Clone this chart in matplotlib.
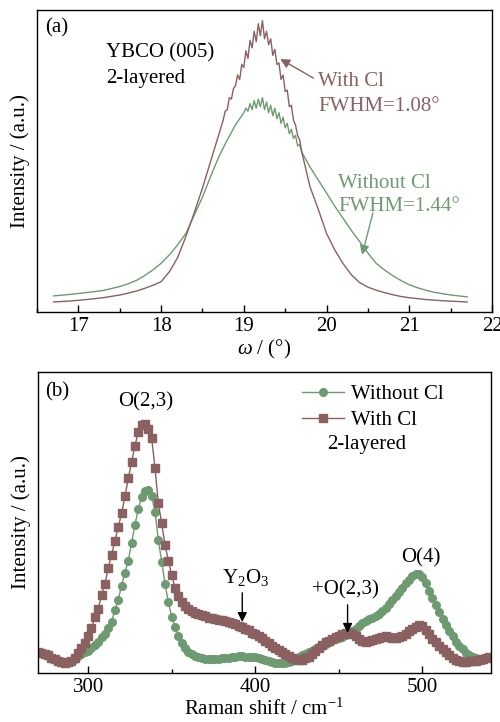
import numpy as np
import matplotlib
matplotlib.use("Agg")
from matplotlib import pyplot as plt
from matplotlib.ticker import MultipleLocator

# ---- (a) XRD rocking curves, YBCO (005) ----
omega_with = [16.7, 16.9, 17.1, 17.3, 17.5, 17.6, 17.7, 17.8, 17.9, 18.0, 18.1, 18.2, 18.3,
              18.4, 18.5, 18.6, 18.7,
              18.75, 18.775, 18.8, 18.825, 18.85, 18.875, 18.9, 18.925, 18.95, 18.975,
              19.0, 19.025, 19.05, 19.075, 19.1, 19.125, 19.15, 19.175, 19.2, 19.225,
              19.25, 19.275, 19.3, 19.325, 19.35, 19.375, 19.4, 19.425, 19.45, 19.475,
              19.5, 19.525, 19.55, 19.575, 19.6, 19.625, 19.65, 19.675,
              19.7, 19.8, 19.9, 20.0, 20.1, 20.2, 20.3, 20.4, 20.5, 20.6, 20.7, 20.8,
              20.9, 21.0, 21.2, 21.4, 21.7]
int_with = [3.3, 3.6, 4.1, 4.7, 5.6, 6.2, 6.9, 7.8, 8.8, 10.0, 13.3, 18.0, 25.0,
            32.8, 41.0, 50.0, 59.0,
            63.5, 66.5, 67.0, 71.0, 70.5, 74.0, 75.0, 78.5, 77.0, 82.0,
            81.0, 86.5, 84.0, 90.0, 87.5, 93.0, 89.5, 95.5, 91.5, 96.5,
            90.5, 93.0, 88.5, 90.5, 85.0, 87.0, 82.0, 82.5, 77.0, 78.5,
            73.0, 73.5, 68.0, 68.5, 63.5, 62.0, 58.5, 57.0,
            53.0, 41.5, 34.0, 26.0, 20.5, 16.0, 12.3, 9.7, 8.2, 7.2, 6.4, 5.7,
            5.1, 4.7, 4.1, 3.7, 3.3]

omega_without = [16.7, 16.9, 17.1, 17.3, 17.5, 17.6, 17.7, 17.8, 17.9, 18.0, 18.1, 18.2,
                 18.3, 18.4, 18.5, 18.6, 18.7, 18.8, 18.9,
                 19.0, 19.025, 19.05, 19.075, 19.1, 19.125, 19.15, 19.175, 19.2, 19.225,
                 19.25, 19.275, 19.3, 19.325, 19.35, 19.375, 19.4, 19.425, 19.45, 19.475,
                 19.5, 19.525, 19.55, 19.575, 19.6, 19.625, 19.65, 19.675, 19.7,
                 19.8, 19.9, 20.0, 20.1, 20.2, 20.3, 20.4, 20.5, 20.6, 20.7, 20.8, 20.9,
                 21.0, 21.1, 21.2, 21.3, 21.5, 21.7]
int_without = [5.3, 5.8, 6.4, 7.1, 8.4, 9.3, 10.4, 12.0, 13.9, 16.1, 18.9, 22.2,
               26.0, 32.0, 38.0, 45.0, 51.5, 57.0, 62.0,
               66.0, 67.5, 66.5, 69.0, 67.0, 70.0, 67.5, 70.5, 68.0, 71.0,
               67.0, 69.5, 66.0, 68.5, 65.0, 67.5, 64.0, 66.0, 62.5, 64.5,
               61.0, 62.5, 59.0, 60.5, 57.5, 58.5, 55.0, 55.5, 53.0,
               48.0, 43.7, 39.4, 35.0, 31.0, 27.0, 23.3, 19.5, 16.1, 13.9, 12.0, 10.4,
               9.0, 8.0, 7.2, 6.5, 5.6, 5.0]

# ---- (b) Raman spectra ----
raman_with = np.arange(270, 541, 2)
int_raman_with = [7.0, 6.6, 6.2, 5.8, 5.1, 4.5, 4.1, 3.7, 3.4, 3.5,
                  4.0, 5.0, 6.5, 8.2, 9.9, 12.1, 14.8, 18.5, 21.2, 25.8,
                  29.5, 34.8, 39.2, 43.8, 48.4, 53.0, 58.6, 64.6, 70.0, 75.5,
                  80.0, 82.2, 82.6, 81.0, 78.0, 68.0, 56.4, 49.7, 42.5, 37.3,
                  32.4, 28.3, 25.5, 23.7, 22.2, 21.2, 20.6, 20.0, 19.6, 19.2,
                  18.8, 18.4, 18.1, 17.9, 17.7, 17.5, 17.3, 16.9, 16.5, 16.1,
                  15.7, 15.2, 14.7, 14.1, 13.4, 12.8, 12.2, 11.5, 10.7, 9.9,
                  9.1, 8.4, 7.6, 6.9, 6.2, 5.6, 5.1, 4.7, 4.4, 4.4,
                  4.8, 5.4, 6.2, 7.2, 8.2, 9.3, 10.1, 10.7, 11.2, 11.8,
                  12.3, 12.8, 13.1, 13.2, 12.8, 12.1, 11.4, 10.7, 10.3, 10.5,
                  10.9, 11.3, 11.7, 12.0, 12.1, 11.8, 11.5, 11.6, 11.9, 12.4,
                  13.0, 13.8, 14.6, 15.4, 15.9, 15.5, 14.3, 12.8, 11.4, 10.2,
                  9.1, 8.0, 7.0, 6.0, 5.0, 4.2, 3.8, 3.7, 3.7, 3.8,
                  3.9, 4.1, 4.3, 4.5, 4.8, 5.2]

raman_without = np.arange(290, 537, 2)
int_raman_without = [4.0, 4.6, 5.5, 6.3, 6.9, 7.4, 8.2, 9.2, 10.4, 11.8,
                     12.8, 14.8, 17.0, 21.0, 24.3, 29.0, 33.2, 37.3, 43.3, 49.2,
                     54.5, 58.5, 60.3, 60.8, 58.6, 53.6, 44.0, 37.0, 29.5, 23.4,
                     18.7, 15.2, 12.3, 9.9, 8.2, 7.1, 6.3, 5.7, 5.2, 4.9,
                     4.7, 4.6, 4.5, 4.6, 4.7, 4.8, 4.9, 5.1, 5.3, 5.4,
                     5.5, 5.5, 5.4, 5.3, 5.3, 5.2, 4.9, 4.5, 4.2, 3.9,
                     3.6, 3.4, 3.2, 3.2, 3.3, 3.6, 4.1, 4.6, 5.2, 5.8,
                     6.3, 6.8, 7.4, 8.0, 8.6, 9.1, 9.7, 10.3, 10.8, 11.3,
                     11.7, 12.0, 12.6, 13.5, 14.0, 14.7, 15.6, 16.5, 17.3, 17.9,
                     18.4, 19.0, 19.7, 20.4, 21.5, 22.8, 24.2, 25.5, 26.8, 28.1,
                     29.7, 31.0, 32.2, 33.0, 32.8, 32.0, 29.8, 27.2, 24.8, 22.6,
                     20.3, 17.8, 15.8, 13.9, 12.1, 10.4, 9.0, 7.8, 6.7, 5.9,
                     5.3, 4.9, 4.6, 4.4]

brown = "#8a6060"
green = "#6e9a71"

plt.rcParams["font.family"] = ["Liberation Serif", "DejaVu Serif"]
plt.rcParams["font.size"] = 15
plt.rcParams["mathtext.fontset"] = "custom"
plt.rcParams["mathtext.rm"] = "Liberation Serif"
plt.rcParams["mathtext.it"] = "Liberation Serif:italic"

fig = plt.figure(figsize=(5.0, 7.22), dpi=100)
ax1 = fig.add_axes([0.074, 0.568, 0.910, 0.418])
ax2 = fig.add_axes([0.076, 0.068, 0.906, 0.417])

for ax in (ax1, ax2):
    ax.set_yticks([])
    ax.tick_params(axis="x", which="both", direction="in", top=False, pad=4, labelsize=15)
    ax.tick_params(axis="x", which="major", length=5, width=1)
    ax.tick_params(axis="x", which="minor", length=3, width=1)
    for s in ax.spines.values():
        s.set_linewidth(1.0)
    ax.set_ylabel("Intensity / (a.u.)", fontsize=15, labelpad=5)
    ax.set_ylim(0, 100)

# (a)
ax1.plot(omega_without, int_without, color=green, lw=1.0)
ax1.plot(omega_with, int_with, color=brown, lw=1.0)
ax1.set_xlim(16.5, 22)
ax1.xaxis.set_major_locator(MultipleLocator(1))
ax1.xaxis.set_minor_locator(MultipleLocator(0.5))
ax1.set_xlabel(r"$\omega$ / (°)", fontsize=15, labelpad=1)

ax1.text(16.6, 94, "(a)", ha="left", va="center")
ax1.text(17.34, 85.8, "YBCO (005)", ha="left", va="center")
ax1.text(17.34, 77.5, "2-layered", ha="left", va="center")
ax1.text(19.90, 76.2, "With Cl", ha="left", va="center", color=brown)
ax1.text(19.90, 68.2, "FWHM=1.08°", ha="left", va="center", color=brown)
ax1.text(20.14, 42.7, "Without Cl", ha="left", va="center", color=green)
ax1.text(20.14, 34.8, "FWHM=1.44°", ha="left", va="center", color=green)
ax1.annotate("", xy=(19.44, 83.8), xytext=(19.84, 77.5),
             arrowprops=dict(arrowstyle="-|>", color=brown, lw=1.0, mutation_scale=14,
                             shrinkA=0, shrinkB=0))
ax1.annotate("", xy=(20.43, 18.9), xytext=(20.56, 32.8),
             arrowprops=dict(arrowstyle="-|>", color=green, lw=1.0, mutation_scale=14,
                             shrinkA=0, shrinkB=0))

# (b)
ax2.plot(raman_without, int_raman_without, color=green, lw=1.0, marker="o", ms=5.5,
         label="Without Cl")
ax2.plot(raman_with, int_raman_with, color=brown, lw=1.0, marker="s", ms=5.2,
         label="With Cl")
ax2.set_xlim(270, 541)
ax2.xaxis.set_major_locator(MultipleLocator(100))
ax2.xaxis.set_minor_locator(MultipleLocator(50))
ax2.set_xlabel(r"Raman shift / cm$^{-1}$", fontsize=15, labelpad=1)

ax2.legend(loc="upper left", bbox_to_anchor=(0.583, 0.957), frameon=False, fontsize=15,
           borderpad=0, borderaxespad=0, handlelength=2.0, handletextpad=0.35,
           labelspacing=0.3)
ax2.text(274, 93.4, "(b)", ha="left", va="center")
ax2.text(334.6, 90, "O(2,3)", ha="center", va="center")
ax2.text(442.7, 75.7, "2-layered", ha="left", va="center")
ax2.text(394, 31.6, r"Y$_2$O$_3$", ha="center", va="center")
ax2.text(454, 27.6, "+O(2,3)", ha="center", va="center")
ax2.text(499, 38.2, "O(4)", ha="center", va="center")
ax2.annotate("", xy=(392.2, 16.9), xytext=(392.2, 26.6),
             arrowprops=dict(arrowstyle="-|>", color="black", lw=1.0, mutation_scale=14,
                             shrinkA=0, shrinkB=0))
ax2.annotate("", xy=(455.2, 13.3), xytext=(455.2, 22.6),
             arrowprops=dict(arrowstyle="-|>", color="black", lw=1.0, mutation_scale=14,
                             shrinkA=0, shrinkB=0))

fig.savefig("out.png", dpi=100)
